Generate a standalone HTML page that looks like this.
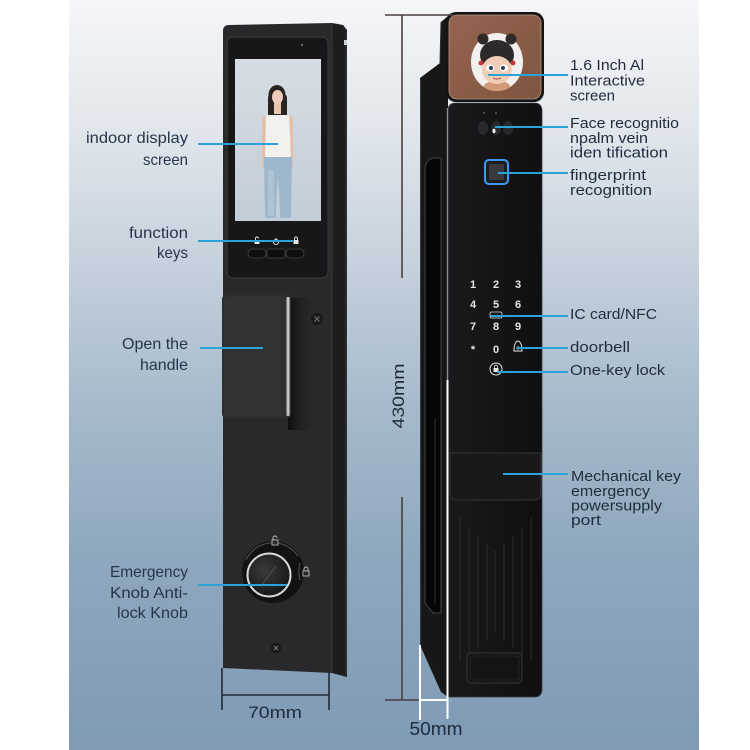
<!DOCTYPE html>
<html><head><meta charset="utf-8"><style>
html,body{margin:0;padding:0;background:#fff;}
svg{display:block;}
.lt{font-family:"Liberation Sans",sans-serif;font-size:16px;fill:#26364a;}
.rt{font-family:"Liberation Sans",sans-serif;font-size:15px;fill:#1f2c3c;}
.dg{font-family:"Liberation Sans",sans-serif;font-size:11px;font-weight:bold;fill:#e6e6e6;text-anchor:middle;}
.dim{font-family:"Liberation Sans",sans-serif;font-size:17px;fill:#1f2b3a;}
</style></head><body>
<svg width="750" height="750" viewBox="0 0 750 750" xmlns="http://www.w3.org/2000/svg">
<defs>
<linearGradient id="bg" x1="0" y1="0" x2="0" y2="1">
<stop offset="0" stop-color="#f5f6f8"/>
<stop offset="0.15" stop-color="#e4e9ee"/>
<stop offset="0.36" stop-color="#c4d0dc"/>
<stop offset="0.55" stop-color="#a5b9cb"/>
<stop offset="0.75" stop-color="#8ea7be"/>
<stop offset="1" stop-color="#7f9ab5"/>
</linearGradient>
<linearGradient id="scr" x1="0" y1="0" x2="0" y2="1">
<stop offset="0" stop-color="#d6dde4"/>
<stop offset="1" stop-color="#c3cdd7"/>
</linearGradient>
<linearGradient id="cop" x1="0" y1="0" x2="1" y2="1">
<stop offset="0" stop-color="#946450"/>
<stop offset="1" stop-color="#80553f"/>
</linearGradient>
<linearGradient id="silver" x1="0" y1="0" x2="1" y2="0">
<stop offset="0" stop-color="#555"/>
<stop offset="0.5" stop-color="#e6e6e6"/>
<stop offset="1" stop-color="#666"/>
</linearGradient>
<linearGradient id="shadow" x1="0" y1="0" x2="1" y2="0">
<stop offset="0" stop-color="#0e0e0e"/>
<stop offset="1" stop-color="#2a2a2c" stop-opacity="0"/>
</linearGradient>
<radialGradient id="knob" cx="0.4" cy="0.4" r="0.7">
<stop offset="0" stop-color="#3a3a3c"/>
<stop offset="1" stop-color="#141416"/>
</radialGradient>
<linearGradient id="panel" x1="0" y1="0" x2="1" y2="0">
<stop offset="0" stop-color="#1a1a1c"/>
<stop offset="1" stop-color="#0f0f11"/>
</linearGradient>
</defs>

<rect width="750" height="750" fill="#fff"/>
<rect x="69" y="0" width="630" height="750" fill="url(#bg)"/>

<!-- ============ LEFT LOCK ============ -->
<polygon points="332,23 343,25 347,30 347,677 332,673" fill="#1d1d1f"/>
<line x1="346" y1="32" x2="346" y2="675" stroke="#3a3a3c" stroke-width="1"/>
<rect x="344" y="40" width="3" height="5" fill="#cfd3d6"/>
<path d="M223,31 Q223,25 229,25 L332,23 L332,673 L223,668 Z" fill="#29292b"/>
<line x1="332" y1="24" x2="332" y2="673" stroke="#3b3b3d" stroke-width="1"/>
<!-- bezel -->
<rect x="227" y="37" width="101" height="241" rx="6" fill="#17171a" stroke="#38383b" stroke-width="1.2"/>
<circle cx="302" cy="45" r="1.2" fill="#666"/>
<!-- screen -->
<rect x="235" y="59" width="86" height="162" fill="url(#scr)"/>
<!-- woman -->
<rect x="268" y="94" width="19" height="30" rx="4" fill="#2b2320"/>
<ellipse cx="277" cy="95" rx="8.5" ry="10" fill="#2b2320"/>
<rect x="262" y="116" width="6" height="52" rx="3" fill="#e3bfa9"/>
<rect x="287" y="116" width="6" height="52" rx="3" fill="#e3bfa9"/>
<rect x="274" y="102" width="7" height="12" fill="#e8c6b2"/>
<ellipse cx="277.5" cy="97" rx="5.5" ry="7" fill="#edcdba"/>
<path d="M266,115 L289,115 L291,158 L265,158 Z" fill="#f3f1ee"/>
<path d="M264,157 L292,157 L291,218 L280.5,218 L278,176 L275.5,218 L265,218 Z" fill="#9db7cc"/>
<path d="M268,170 L274,170 L274,216 L268,216 Z" fill="#b9ccd9" opacity="0.6"/>
<!-- function keys -->
<g fill="#0f0f10" stroke="#47474a" stroke-width="0.8">
<rect x="248" y="249" width="18" height="9" rx="4.5"/>
<rect x="267" y="249" width="18" height="9" rx="2"/>
<rect x="286" y="249" width="18" height="9" rx="4.5"/>
</g>
<g fill="#e8e8e8">
<rect x="254.5" y="240" width="5" height="4" rx="0.5"/>
<rect x="293.5" y="240" width="5" height="4" rx="0.5"/>
</g>
<path d="M255.5,240 v-1.5 a1.5,1.5 0 0 1 3,0" stroke="#e8e8e8" fill="none" stroke-width="0.9"/>
<path d="M294.5,240 v-1.5 a1.5,1.5 0 0 1 3,0 v1.5" stroke="#e8e8e8" fill="none" stroke-width="0.9"/>
<circle cx="276" cy="242" r="2.6" stroke="#e8e8e8" fill="none" stroke-width="0.9"/>
<line x1="276" y1="238" x2="276" y2="241" stroke="#e8e8e8" stroke-width="0.9"/>
<!-- handle -->
<rect x="288" y="298" width="30" height="132" fill="url(#shadow)"/>
<rect x="222" y="295" width="69" height="123" rx="4" fill="#2e2e30"/>
<rect x="224" y="297" width="62" height="119" rx="3" fill="#323234"/>
<rect x="286" y="297" width="4" height="119" rx="1.5" fill="url(#silver)"/>
<!-- screw top -->
<circle cx="317" cy="319" r="7" fill="#1b1b1c" stroke="#2f2f31"/>
<path d="M314.5,316.5 l5,5 M319.5,316.5 l-5,5" stroke="#777" stroke-width="1"/>
<!-- knob -->
<circle cx="273" cy="572" r="31" fill="#121213"/>
<path d="M246,560 A30,30 0 0 1 298,556" stroke="#555" stroke-width="1" fill="none"/>
<path d="M300,580 A30,30 0 0 1 300,563" stroke="#555" stroke-width="1" fill="none"/>
<rect x="272" y="540" width="6" height="5" fill="none" stroke="#bbb" stroke-width="0.9"/>
<path d="M273,540 v-2 a2,2 0 0 1 4,0" stroke="#bbb" fill="none" stroke-width="0.9"/>
<rect x="303" y="571" width="6" height="5" fill="none" stroke="#bbb" stroke-width="0.9"/>
<path d="M304,571 v-2 a2,2 0 0 1 4,0 v2" stroke="#bbb" fill="none" stroke-width="0.9"/>
<circle cx="269" cy="575" r="21.5" fill="url(#knob)" stroke="#d9d9d9" stroke-width="2"/>
<line x1="262" y1="585" x2="276" y2="566" stroke="#555" stroke-width="0.8"/>
<!-- screw bottom -->
<circle cx="276" cy="648" r="6" fill="#1a1a1b" stroke="#2f2f31"/>
<path d="M274,646 l4,4 M278,646 l-4,4" stroke="#777" stroke-width="1"/>

<!-- ============ RIGHT LOCK ============ -->
<polygon points="441,22 448,16 448,697 441,692 420,645 420,78 440,63" fill="#171718"/>
<line x1="420.5" y1="79" x2="420.5" y2="645" stroke="#3a3a3c" stroke-width="1"/>
<line x1="441" y1="22" x2="440" y2="63" stroke="#333" stroke-width="1"/>
<path d="M425,170 Q425,160 433,158 L441,158 L441,613 L433,613 L425,603 Z" fill="#060606" stroke="#444447" stroke-width="1"/>
<line x1="435" y1="418" x2="435" y2="605" stroke="#2c2c2e" stroke-width="1"/>
<!-- copper screen -->
<rect x="446" y="12" width="98" height="90" rx="10" fill="#141415"/>
<rect x="449" y="15" width="92" height="84" rx="8" fill="url(#cop)" stroke="#b99484" stroke-width="0.8"/>
<ellipse cx="497" cy="62" rx="26" ry="29" fill="#f1f0ee"/>
<ellipse cx="497" cy="86" rx="13" ry="5" fill="#d29a78"/>
<circle cx="483" cy="39" r="5.5" fill="#2f2a2a"/>
<circle cx="511" cy="39" r="5.5" fill="#2f2a2a"/>
<ellipse cx="497" cy="55" rx="17" ry="15" fill="#2f2a2a"/>
<ellipse cx="497" cy="70" rx="15" ry="14" fill="#f2cdb6"/>
<path d="M482,60 Q497,48 512,60 L512,56 Q497,42 482,56 Z" fill="#2f2a2a"/>
<circle cx="481" cy="63" r="2.5" fill="#c23a3a"/>
<circle cx="513" cy="63" r="2.5" fill="#c23a3a"/>
<ellipse cx="490" cy="68" rx="4" ry="3.5" fill="#fff"/>
<ellipse cx="504" cy="68" rx="4" ry="3.5" fill="#fff"/>
<circle cx="491" cy="68" r="2" fill="#2a3a55"/>
<circle cx="503" cy="68" r="2" fill="#2a3a55"/>
<path d="M493,78 Q497,80 501,78" stroke="#a55" stroke-width="1" fill="none"/>
<!-- lower panel -->
<path d="M448,111 Q448,103 456,103 L534,103 Q542,103 542,111 L542,689 Q542,697 534,697 L448,697 Z" fill="url(#panel)" stroke="#3a3a3c" stroke-width="0.8"/>
<line x1="447.5" y1="108" x2="447.5" y2="380" stroke="#8a9096" stroke-width="1.3"/>
<!-- sensors -->
<circle cx="484" cy="113" r="1" fill="#555"/>
<circle cx="496" cy="113" r="1" fill="#555"/>
<ellipse cx="483" cy="128" rx="5" ry="7" fill="#2a2a2e"/>
<ellipse cx="496" cy="128" rx="5" ry="7" fill="#2a2a2e"/>
<ellipse cx="508" cy="128" rx="5" ry="7" fill="#2a2a2e"/>
<ellipse cx="494" cy="131" rx="1.5" ry="2.2" fill="#f2f2f2"/>
<!-- fingerprint -->
<rect x="485" y="160" width="23" height="24" rx="4" fill="#1d1d20" stroke="#3a9cff" stroke-width="2"/>
<rect x="489" y="164" width="15" height="16" rx="2" fill="#3a3a3e"/>
<!-- keypad -->
<text class="dg" x="473" y="288">1</text>
<text class="dg" x="496" y="288">2</text>
<text class="dg" x="518" y="288">3</text>
<text class="dg" x="473" y="308">4</text>
<text class="dg" x="496" y="308">5</text>
<text class="dg" x="518" y="308">6</text>
<text class="dg" x="473" y="330">7</text>
<text class="dg" x="496" y="330">8</text>
<text class="dg" x="518" y="330">9</text>
<text class="dg" x="473" y="353">*</text>
<text class="dg" x="496" y="353">0</text>
<rect x="490" y="312" width="12" height="6" rx="1.5" fill="none" stroke="#ddd" stroke-width="0.8"/>
<path d="M514,351 Q514,342 518,341 Q522,342 522,351 Z" fill="none" stroke="#e6e6e6" stroke-width="1"/>
<circle cx="518" cy="348" r="1.5" fill="#e6e6e6"/>
<circle cx="496" cy="369" r="6" fill="none" stroke="#e6e6e6" stroke-width="1"/>
<rect x="493.5" y="368" width="5" height="4" fill="#e6e6e6"/>
<path d="M494.5,368 v-1.5 a1.5,1.5 0 0 1 3,0 v1.5" fill="none" stroke="#e6e6e6" stroke-width="0.8"/>
<!-- key cover -->
<path d="M450,453 L541,453 L541,493 Q541,500 534,500 L457,500 Q450,500 450,493 Z" fill="#19191b" stroke="#333336" stroke-width="1"/>
<!-- ridges -->
<g stroke="#2e2b2a" stroke-width="1">
<line x1="460" y1="518" x2="460" y2="662"/>
<line x1="469" y1="528" x2="469" y2="655"/>
<line x1="478" y1="536" x2="478" y2="648"/>
<line x1="487" y1="544" x2="487" y2="640"/>
<line x1="495" y1="550" x2="495" y2="632"/>
<line x1="504" y1="544" x2="504" y2="640"/>
<line x1="513" y1="536" x2="513" y2="648"/>
<line x1="522" y1="528" x2="522" y2="655"/>
<line x1="531" y1="518" x2="531" y2="662"/>
</g>
<rect x="467" y="653" width="55" height="30" rx="4" fill="#141416" stroke="#3a3a3c" stroke-width="1"/>
<rect x="470" y="656" width="49" height="24" rx="3" fill="none" stroke="#2a2a2c" stroke-width="0.8"/>

<!-- ============ DIMENSIONS ============ -->
<g stroke="#4a3f3f" stroke-width="1.6">
<line x1="385" y1="15" x2="453" y2="15"/>
<line x1="402" y1="15" x2="402" y2="278"/>
<line x1="402" y1="497" x2="402" y2="700"/>
<line x1="385" y1="700" x2="420" y2="700"/>
</g>
<text class="dim" transform="translate(404,396) rotate(-90)" text-anchor="middle" textLength="65" lengthAdjust="spacingAndGlyphs">430mm</text>
<g stroke="#ffffff" stroke-width="2">
<line x1="420" y1="645" x2="420" y2="720"/>
<line x1="447.5" y1="380" x2="447.5" y2="719"/>
<line x1="420" y1="700" x2="447.5" y2="700"/>
</g>
<text class="dim" x="436" y="735" text-anchor="middle" textLength="53" lengthAdjust="spacingAndGlyphs" style="font-size:18px">50mm</text>
<g stroke="#1f2a38" stroke-width="1.6">
<line x1="222" y1="668" x2="222" y2="710"/>
<line x1="329" y1="672" x2="329" y2="710"/>
<line x1="222" y1="695" x2="329" y2="695"/>
</g>
<text class="dim" x="275" y="718" text-anchor="middle" textLength="54" lengthAdjust="spacingAndGlyphs">70mm</text>

<!-- ============ CONNECTORS ============ -->
<g stroke="#2ba3d8" stroke-width="2">
<line x1="198" y1="144" x2="278" y2="144"/>
<line x1="198" y1="241" x2="293" y2="241"/>
<line x1="200" y1="348" x2="263" y2="348"/>
<line x1="198" y1="585" x2="287" y2="585"/>
<line x1="488" y1="75" x2="568" y2="75"/>
<line x1="495" y1="127" x2="568" y2="127"/>
<line x1="498" y1="173" x2="568" y2="173"/>
<line x1="490" y1="316" x2="568" y2="316"/>
<line x1="517" y1="348" x2="568" y2="348"/>
<line x1="497" y1="372" x2="568" y2="372"/>
<line x1="503" y1="474" x2="568" y2="474"/>
</g>

<!-- ============ LEFT LABELS ============ -->
<g class="lt" text-anchor="end">
<text x="188" y="143" textLength="102" lengthAdjust="spacingAndGlyphs">indoor display</text>
<text x="188" y="165" textLength="45" lengthAdjust="spacingAndGlyphs">screen</text>
<text x="188" y="238" textLength="59" lengthAdjust="spacingAndGlyphs">function</text>
<text x="188" y="258" textLength="31" lengthAdjust="spacingAndGlyphs">keys</text>
<text x="188" y="349" textLength="66" lengthAdjust="spacingAndGlyphs">Open the</text>
<text x="188" y="370" textLength="48" lengthAdjust="spacingAndGlyphs">handle</text>
<text x="188" y="577" textLength="78" lengthAdjust="spacingAndGlyphs">Emergency</text>
<text x="188" y="598" textLength="78" lengthAdjust="spacingAndGlyphs">Knob Anti-</text>
<text x="188" y="618" textLength="71" lengthAdjust="spacingAndGlyphs">lock Knob</text>
</g>

<!-- ============ RIGHT LABELS ============ -->
<g class="rt">
<text x="570" y="70" textLength="74" lengthAdjust="spacingAndGlyphs">1.6 Inch Al</text>
<text x="570" y="85.5" textLength="75" lengthAdjust="spacingAndGlyphs">Interactive</text>
<text x="570" y="100.5" textLength="45" lengthAdjust="spacingAndGlyphs">screen</text>
<text x="570" y="128" textLength="109" lengthAdjust="spacingAndGlyphs">Face recognitio</text>
<text x="570" y="143" textLength="78" lengthAdjust="spacingAndGlyphs">npalm vein</text>
<text x="570" y="157.5" textLength="98" lengthAdjust="spacingAndGlyphs">iden tification</text>
<text x="570" y="180" textLength="76" lengthAdjust="spacingAndGlyphs">fingerprint</text>
<text x="570" y="195" textLength="82" lengthAdjust="spacingAndGlyphs">recognition</text>
<text x="570" y="319" textLength="87" lengthAdjust="spacingAndGlyphs">IC card/NFC</text>
<text x="570" y="352" textLength="60" lengthAdjust="spacingAndGlyphs">doorbell</text>
<text x="570" y="375" textLength="95" lengthAdjust="spacingAndGlyphs">One-key lock</text>
<text x="571" y="481" textLength="110" lengthAdjust="spacingAndGlyphs">Mechanical key</text>
<text x="571" y="496" textLength="79" lengthAdjust="spacingAndGlyphs">emergency</text>
<text x="571" y="510.5" textLength="91" lengthAdjust="spacingAndGlyphs">powersupply</text>
<text x="571" y="525" textLength="30" lengthAdjust="spacingAndGlyphs">port</text>
</g>
</svg>
</body></html>
